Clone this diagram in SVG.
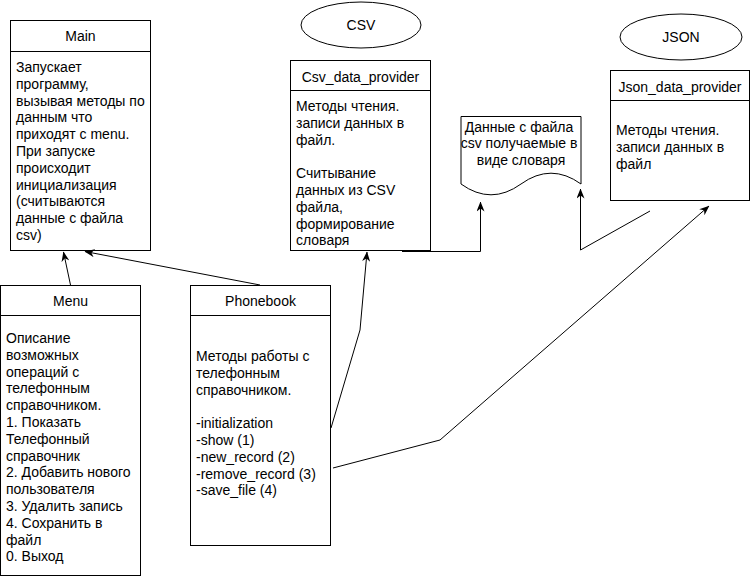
<svg xmlns="http://www.w3.org/2000/svg" width="751" height="576" viewBox="0 0 751 576">
  <style>
    .box { fill: #ffffff; stroke: #000000; stroke-width: 1; }
    .sep { stroke: #000000; stroke-width: 1; }
    .title { font-family: "Liberation Sans", Arial, sans-serif; font-size: 14px; fill: #000000; text-anchor: middle; }
    .body { font-family: "Liberation Sans", Arial, sans-serif; font-size: 14px; fill: #000000; }
    .mid { text-anchor: middle; }
    .edge { fill: none; stroke: #000000; stroke-width: 1; marker-end: url(#arrow); }
  </style>
  <defs>
    <marker id="arrow" viewBox="0 0 10 8" refX="9.5" refY="4" markerWidth="10" markerHeight="8" markerUnits="userSpaceOnUse" orient="auto">
      <path d="M0,0 L10,4 L0,8 L3,4 Z" fill="#000000"/>
    </marker>
  </defs>
  <rect width="751" height="576" fill="#ffffff"/>

  <!-- Main -->
  <g id="main">
    <rect class="box" x="10.5" y="20.5" width="140" height="230"/>
    <line class="sep" x1="10.5" y1="51.5" x2="150.5" y2="51.5"/>
    <text class="title" x="80.5" y="41">Main</text>
    <text class="body" x="16">
      <tspan x="16" y="72">Запускает</tspan>
      <tspan x="16" y="88.8">программу,</tspan>
      <tspan x="16" y="105.6">вызывая методы по</tspan>
      <tspan x="16" y="122.4">данным что</tspan>
      <tspan x="16" y="139.2">приходят с menu.</tspan>
      <tspan x="16" y="156">При запуске</tspan>
      <tspan x="16" y="172.8">происходит</tspan>
      <tspan x="16" y="189.6">инициализация</tspan>
      <tspan x="16" y="206.4">(считываются</tspan>
      <tspan x="16" y="223.2">данные с файла</tspan>
      <tspan x="16" y="240">csv)</tspan>
    </text>
  </g>

  <!-- CSV storage label -->
  <g id="csv">
    <ellipse class="box" cx="361" cy="25" rx="60" ry="23"/>
    <text class="title" x="361" y="30">CSV</text>
  </g>

  <!-- Csv_data_provider -->
  <g id="csv_data_provider">
    <rect class="box" x="290.5" y="60.5" width="140" height="190"/>
    <line class="sep" x1="290.5" y1="90.5" x2="430.5" y2="90.5"/>
    <text class="title" x="360.5" y="82">Csv_data_provider</text>
    <text class="body" x="296">
      <tspan x="296" y="111">Методы чтения.</tspan>
      <tspan x="296" y="127.8">записи данных в</tspan>
      <tspan x="296" y="144.6">файл.</tspan>
      <tspan x="296" y="178.2">Считывание</tspan>
      <tspan x="296" y="195">данных из CSV</tspan>
      <tspan x="296" y="211.8">файла,</tspan>
      <tspan x="296" y="228.6">формирование</tspan>
      <tspan x="296" y="245.4">словаря</tspan>
    </text>
  </g>

  <!-- Dictionary document -->
  <g id="csv_dictionary">
    <path class="box" d="M461,116.5 L581,116.5 L581,184 Q551,162.4 521,184 T461,184 Z"/>
    <text class="body mid" x="521">
      <tspan x="521" y="131.5">Данные с файла</tspan>
      <tspan x="521" y="148.3">csv получаемые в</tspan>
      <tspan x="521" y="165.1">виде словаря</tspan>
    </text>
  </g>

  <!-- JSON storage label -->
  <g id="json">
    <ellipse class="box" cx="681" cy="37" rx="61" ry="23"/>
    <text class="title" x="681" y="42">JSON</text>
  </g>

  <!-- Json_data_provider -->
  <g id="json_data_provider">
    <rect class="box" x="610.5" y="70.5" width="139" height="130"/>
    <line class="sep" x1="610.5" y1="100.5" x2="749.5" y2="100.5"/>
    <text class="title" x="680" y="92">Json_data_provider</text>
    <text class="body" x="616">
      <tspan x="616" y="135">Методы чтения.</tspan>
      <tspan x="616" y="151.8">записи данных в</tspan>
      <tspan x="616" y="168.6">файл</tspan>
    </text>
  </g>

  <!-- Menu -->
  <g id="menu">
    <rect class="box" x="0.5" y="285.5" width="140" height="290"/>
    <line class="sep" x1="0.5" y1="315.5" x2="140.5" y2="315.5"/>
    <text class="title" x="70.5" y="306">Menu</text>
    <text class="body" x="6">
      <tspan x="6" y="343">Описание</tspan>
      <tspan x="6" y="359.8">возможных</tspan>
      <tspan x="6" y="376.6">операций с</tspan>
      <tspan x="6" y="393.4">телефонным</tspan>
      <tspan x="6" y="410.2">справочником.</tspan>
      <tspan x="6" y="427">1. Показать</tspan>
      <tspan x="6" y="443.8">Телефонный</tspan>
      <tspan x="6" y="460.6">справочник</tspan>
      <tspan x="6" y="477.4">2. Добавить нового</tspan>
      <tspan x="6" y="494.2">пользователя</tspan>
      <tspan x="6" y="511">3. Удалить запись</tspan>
      <tspan x="6" y="527.8">4. Сохранить в</tspan>
      <tspan x="6" y="544.6">файл</tspan>
      <tspan x="6" y="561.4">0. Выход</tspan>
    </text>
  </g>

  <!-- Phonebook -->
  <g id="phonebook">
    <rect class="box" x="190.5" y="285.5" width="140" height="260"/>
    <line class="sep" x1="190.5" y1="315.5" x2="330.5" y2="315.5"/>
    <text class="title" x="260.5" y="306">Phonebook</text>
    <text class="body" x="196">
      <tspan x="196" y="361">Методы работы с</tspan>
      <tspan x="196" y="377.8">телефонным</tspan>
      <tspan x="196" y="394.6">справочником.</tspan>
      <tspan x="196" y="428.2">-initialization</tspan>
      <tspan x="196" y="445">-show (1)</tspan>
      <tspan x="196" y="461.8">-new_record (2)</tspan>
      <tspan x="196" y="478.6">-remove_record (3)</tspan>
      <tspan x="196" y="495.4">-save_file (4)</tspan>
    </text>
  </g>

  <!-- Connectors -->
  <g id="connectors">
    <path class="edge" d="M70.5,285 L63.5,252"/>
    <path class="edge" d="M260,285 L85,251.5"/>
    <path class="edge" d="M331,428 L360,330 L367,252"/>
    <path class="edge" d="M402,251.5 L480.5,251.5 L480.5,202"/>
    <path class="edge" d="M650,211 L580.5,250 L580.5,189"/>
    <path class="edge" d="M333,468 L440,440 L709,206"/>
  </g>
</svg>
